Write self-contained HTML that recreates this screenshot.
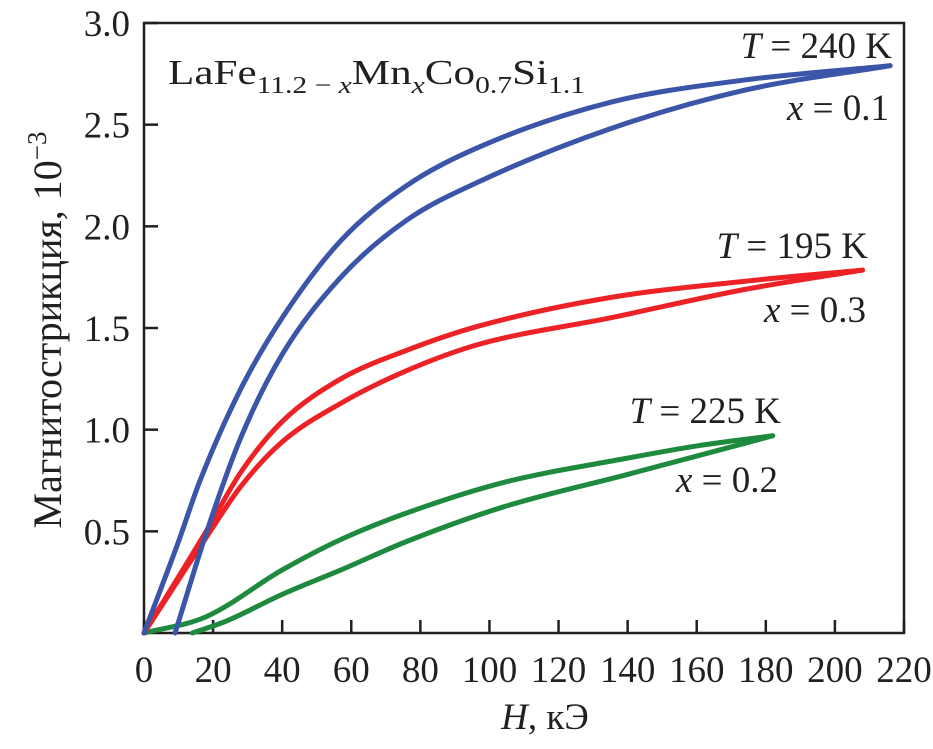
<!DOCTYPE html>
<html><head><meta charset="utf-8"><style>
body{margin:0;background:#fff}
svg text{font-family:"Liberation Serif",serif;fill:#231f20}
</style></head><body>
<svg width="933" height="744" viewBox="0 0 933 744">
<g id="axes"></g>
<g id="series"></g>
<text x="168" y="84" font-size="35" textLength="417" lengthAdjust="spacingAndGlyphs">LaFe<tspan font-size="24" dy="9">11.2 − <tspan font-style="italic">x</tspan></tspan><tspan dy="-9">Mn</tspan><tspan font-size="24" dy="9" font-style="italic">x</tspan><tspan dy="-9">Co</tspan><tspan font-size="24" dy="9">0.7</tspan><tspan dy="-9">Si</tspan><tspan font-size="24" dy="9">1.1</tspan></text>
<text x="892" y="58" font-size="37" text-anchor="end"><tspan font-style="italic">T</tspan> = 240 K</text>
<text x="889" y="120" font-size="37" text-anchor="end"><tspan font-style="italic">x</tspan> = 0.1</text>
<text x="868" y="258" font-size="37" text-anchor="end"><tspan font-style="italic">T</tspan> = 195 K</text>
<text x="866" y="322" font-size="37" text-anchor="end"><tspan font-style="italic">x</tspan> = 0.3</text>
<text x="781" y="423" font-size="37" text-anchor="end"><tspan font-style="italic">T</tspan> = 225 K</text>
<text x="778" y="492" font-size="37" text-anchor="end"><tspan font-style="italic">x</tspan> = 0.2</text>
<text x="545" y="729" font-size="37" text-anchor="middle"><tspan font-style="italic">H</tspan>, кЭ</text>
<text transform="translate(61,330) rotate(-90)" text-anchor="middle" font-size="40">Магнитострикция, 10<tspan font-size="27" dy="-15">−3</tspan></text>
</svg>
<script>
const xTicks=[0,20,40,60,80,100,120,140,160,180,200,220];
const yTicks=[0.5,1.0,1.5,2.0,2.5,3.0];
const blueUpH=[0,10,16,28,40,57,76,97,135,174,216];
const blueUpV=[0,0.45,0.74,1.2,1.55,1.93,2.2,2.39,2.61,2.72,2.79];
const blueLoH=[9,18,28,40,57,76,97,135,174,216];
const blueLoV=[0,0.49,0.96,1.37,1.75,2.03,2.22,2.48,2.67,2.79];
const redUpH=[0,18,28,40,57,76,97,135,174,208];
const redUpV=[0,0.5,0.79,1.04,1.25,1.39,1.51,1.65,1.73,1.785];
const redLoH=[0,18,28,40,57,76,97,135,174,208];
const redLoV=[0,0.47,0.72,0.94,1.13,1.29,1.42,1.55,1.69,1.785];
const greenUpH=[0,18,40,57,76,104,140,160,182];
const greenUpV=[0,0.08,0.31,0.46,0.59,0.74,0.86,0.92,0.97];
const greenLoH=[14,24,40,57,76,104,140,160,182];
const greenLoV=[0,0.06,0.19,0.31,0.45,0.62,0.78,0.87,0.97];

const NS="http://www.w3.org/2000/svg";
const X=h=>144+h*3.4545, Y=v=>633-v*203.33;
const ax=document.getElementById('axes'), se=document.getElementById('series');
function mk(tag,attrs,parent){const e=document.createElementNS(NS,tag);for(const k in attrs)e.setAttribute(k,attrs[k]);parent.appendChild(e);return e;}
const frame=mk('rect',{x:144,y:23,width:760,height:610,fill:'none',stroke:'#231f20','stroke-width':2.5},ax);


xTicks.forEach(t=>{
 const l=mk('line',{x1:X(t),x2:X(t),y1:633,y2:620,stroke:'#231f20','stroke-width':2.5},ax);
 
 
 const tx=mk('text',{x:X(t),y:682,'text-anchor':'middle','font-size':37},ax);tx.textContent=t;
 
 
});
yTicks.forEach(t=>{
 const l=mk('line',{x1:144,x2:158,y1:Y(t),y2:Y(t),stroke:'#231f20','stroke-width':2.5},ax);
 
 
 const tx=mk('text',{x:130,y:Y(t)+13,'text-anchor':'end','font-size':37},ax);tx.textContent=t.toFixed(1);
 
 
});
function monotone(H,V){
 const x=H.map(X), y=V.map(Y), n=x.length;
 const d=[],m=[];
 for(let i=0;i<n-1;i++)d.push((y[i+1]-y[i])/(x[i+1]-x[i]));
 m[0]=d[0];m[n-1]=d[n-2];
 for(let i=1;i<n-1;i++)m[i]=(d[i-1]*d[i]<=0)?0:(d[i-1]+d[i])/2;
 for(let i=0;i<n-1;i++){
  if(d[i]===0){m[i]=0;m[i+1]=0;continue;}
  const a=m[i]/d[i],b=m[i+1]/d[i],s=a*a+b*b;
  if(s>9){const t=3/Math.sqrt(s);m[i]=t*a*d[i];m[i+1]=t*b*d[i];}
 }
 let p='M'+x[0]+','+y[0];
 for(let i=0;i<n-1;i++){
  const h=(x[i+1]-x[i])/3;
  p+=' C'+(x[i]+h)+','+(y[i]+m[i]*h)+' '+(x[i+1]-h)+','+(y[i+1]-m[i+1]*h)+' '+x[i+1]+','+y[i+1];
 }
 return p;
}
function branch(H,V,color,name){
 const p=mk('path',{d:monotone(H,V),fill:'none',stroke:color,'stroke-width':5,'stroke-linecap':'round'},se);
 
 
}
branch(greenUpH,greenUpV,'#1e8a3e','green-upper-branch');
branch(greenLoH,greenLoV,'#1e8a3e','green-lower-branch');
branch(redUpH,redUpV,'#ec2227','red-upper-branch');
branch(redLoH,redLoV,'#ec2227','red-lower-branch');
branch(blueUpH,blueUpV,'#3b55a8','blue-upper-branch');
branch(blueLoH,blueLoV,'#3b55a8','blue-lower-branch');
</script>
</body></html>
